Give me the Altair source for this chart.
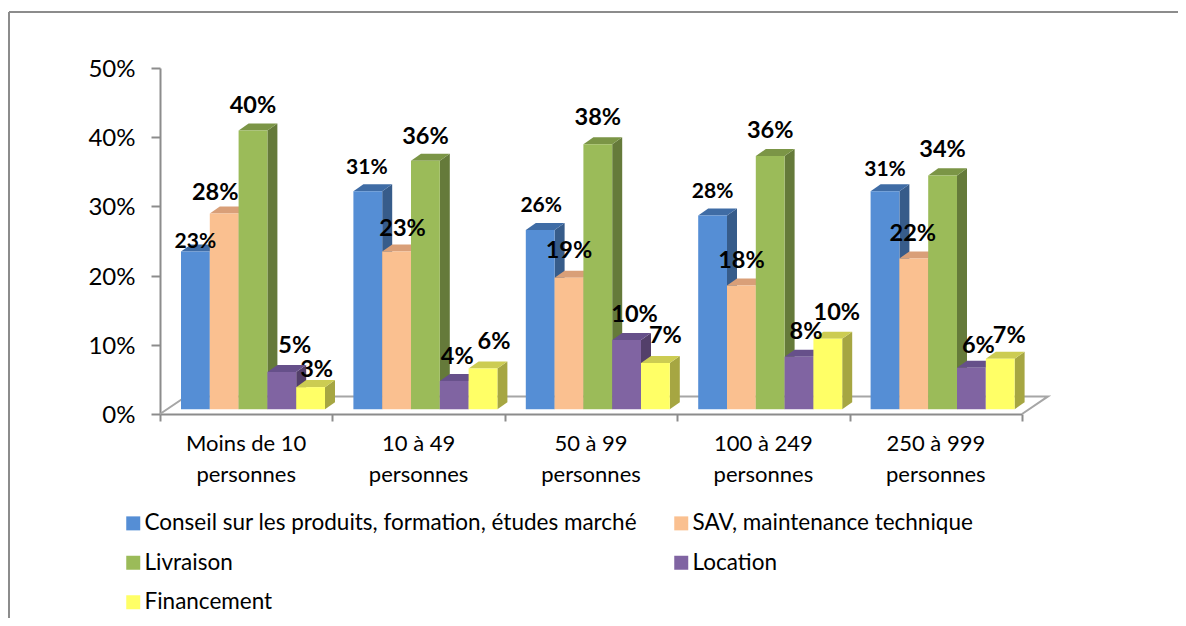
import altair as alt
import pandas as pd

# ---- values ----
CATEGORIES = ["Moins de 10\npersonnes", "10 à 49\npersonnes", "50 à 99\npersonnes",
              "100 à 249\npersonnes", "250 à 999\npersonnes"]
SERIES = ["Conseil sur les produits, formation, études marché", "SAV, maintenance technique",
          "Livraison", "Location", "Financement"]
CONSEIL = [22.8, 31.5, 25.9, 28.0, 31.5]
SAV = [28.3, 22.8, 19.0, 17.9, 21.8]
LIVRAISON = [40.3, 35.9, 38.3, 36.6, 33.8]
LOCATION = [5.4, 4.1, 10.0, 7.6, 6.0]
FINANCEMENT = [3.2, 5.9, 6.7, 10.2, 7.3]
LABELS = [["23%", "31%", "26%", "28%", "31%"],
          ["28%", "23%", "19%", "18%", "22%"],
          ["40%", "36%", "38%", "36%", "34%"],
          ["5%", "4%", "10%", "8%", "6%"],
          ["3%", "6%", "7%", "10%", "7%"]]
VALUES = [CONSEIL, SAV, LIVRAISON, LOCATION, FINANCEMENT]

# ---- styling ----
FRONT = ["#558ed5", "#fac090", "#9bbb59", "#8064a2", "#ffff66"]
TOP = ["#3f6ca5", "#d99f78", "#7b9546", "#66508a", "#cccc52"]
SIDE = ["#375c8a", "#a87f60", "#657a3a", "#533f6a", "#a6a642"]
FONT = "Lato"
GRAY = "#8c8c8c"

PX_X, PX_Y = 172.4, 6.9      # pixels per category / per percent
W = 862
H = 346
BAR_START = 21 / PX_X
BAR_W = 28.8 / PX_X
BASE = 4.7 / PX_Y
DEPTH_X, DEPTH_Y = 10 / PX_X, 7 / PX_Y
FLOOR_X, FLOOR_Y = 26 / PX_X, 17.5 / PX_Y

# label nudges in pixels from the centre of each bar's top edge (right, up), per series
NUDGE_X = [[0, -1, 1, 0, 0], [-9, 6, 0, 0, -1], [0, 0, 0, 0, 0], [13, 3, 8, 7, 7], [6, 11, 10, 9, 9]]
NUDGE_Y = [[12, 26, 26, 26, 24], [23, 25, 29, 27, 27], [27, 26, 29, 27, 28],
           [28, 26, 28, 27, 24], [20, 29, 29, 28, 25]]

fronts, areas_side, areas_top, labels = [], [], [], []
for j, name in enumerate(SERIES):
    for i, cat in enumerate(CATEGORIES):
        v = VALUES[j][i] + BASE   # the bars stand on a floor slightly above the axis line
        x0 = i + BAR_START + j * BAR_W
        x1 = x0 + BAR_W
        key = f"{i}-{j}"
        fronts.append(dict(series=name, x=x0, x2=x1, y=v, y2=BASE))
        for x, y, y2 in [(x1, v, BASE), (x1 + DEPTH_X, v + DEPTH_Y, BASE + DEPTH_Y)]:
            areas_side.append(dict(key=key, x=x, y=y, y2=y2, c=SIDE[j]))
        for x, y, y2 in [(x0, v, v), (x0 + DEPTH_X, v + DEPTH_Y, v),
                         (x1, v + DEPTH_Y, v), (x1 + DEPTH_X, v + DEPTH_Y, v + DEPTH_Y)]:
            areas_top.append(dict(key=key, x=x, y=y, y2=y2, c=TOP[j]))
        labels.append(dict(text=LABELS[j][i], j=j,
                           x=(x0 + x1) / 2 + NUDGE_X[j][i] / PX_X,
                           y=v + NUDGE_Y[j][i] / PX_Y))

xs = alt.Scale(domain=[0, 5], nice=False, zero=False)
ys = alt.Scale(domain=[0, 50], nice=False, zero=False)
X = lambda f="x": alt.X(f"{f}:Q", scale=xs, title=None,
                        axis=alt.Axis(values=[0, 1, 2, 3, 4, 5], labels=False, grid=False, tickSize=7,
                                      tickWidth=2, tickColor=GRAY, domainColor=GRAY, domainWidth=2))
Y = lambda: alt.Y("y:Q", scale=ys, stack=None, title=None,
                  axis=alt.Axis(values=[0, 10, 20, 30, 40, 50], labelExpr="datum.value + '%'", grid=False,
                                tickSize=9, tickWidth=2, tickColor=GRAY, domainColor=GRAY, domainWidth=2,
                                labelFont=FONT, labelFontSize=24, labelColor="#000000", labelPadding=16,
                                labelOffset=1.5))

floor_df = pd.DataFrame([dict(x=0, y=0, o=0), dict(x=FLOOR_X, y=FLOOR_Y, o=1),
                         dict(x=5 + FLOOR_X, y=FLOOR_Y, o=2), dict(x=5, y=0, o=3)])
floor = alt.Chart(floor_df).mark_line(color="#a6a6a6", strokeWidth=2).encode(x=X(), y=Y(), order="o:Q")

sides = alt.Chart(pd.DataFrame(areas_side)).mark_area(opacity=1).encode(
    x=X(), y=Y(), y2="y2:Q", detail="key:N", fill=alt.Fill("c:N", scale=None, legend=None))
tops = alt.Chart(pd.DataFrame(areas_top)).mark_area(opacity=1).encode(
    x=X(), y=Y(), y2="y2:Q", detail="key:N", fill=alt.Fill("c:N", scale=None, legend=None))

front = alt.Chart(pd.DataFrame(fronts)).mark_rect().encode(
    x=X(), x2="x2:Q", y=Y(), y2="y2:Q",
    color=alt.Color("series:N", scale=alt.Scale(domain=SERIES, range=FRONT), sort=SERIES, title=None,
                    legend=alt.Legend(orient="none", legendX=-38, legendY=444, columns=2, direction="horizontal",
                                      symbolType="square", symbolSize=196, symbolStrokeWidth=0,
                                      labelFont=FONT, labelFontSize=22.5, labelColor="#000000",
                                      labelLimit=700, labelOffset=0, columnPadding=33, rowPadding=16.5,
                                      symbolOpacity=1)))

lab = pd.DataFrame(labels)
text_small = alt.Chart(lab[lab.j == 0]).mark_text(font=FONT, fontWeight="bold", fontSize=21, color="#000000",
                                                  baseline="middle", dy=2.5).encode(x=X(), y=Y(), text="text:N")
text_big = alt.Chart(lab[lab.j != 0]).mark_text(font=FONT, fontWeight="bold", fontSize=23.5, color="#000000",
                                                baseline="middle", dy=2.5).encode(x=X(), y=Y(), text="text:N")

cat_df = pd.DataFrame(dict(x=[i + 0.5 for i in range(5)], y=[0] * 5, text=CATEGORIES))
cats = alt.Chart(cat_df).mark_text(font=FONT, fontSize=22, color="#000000", baseline="top", lineBreak="\n",
                                   lineHeight=31, dy=20).encode(x=X(), y=Y(), text="text:N")

frame_left = alt.Chart(pd.DataFrame({"a": [0]})).mark_rule(color=GRAY, strokeWidth=2).encode(
    x=alt.value(-151), y=alt.value(-56), y2=alt.value(570))
frame_top = alt.Chart(pd.DataFrame({"a": [0]})).mark_rule(color=GRAY, strokeWidth=2).encode(
    x=alt.value(-151), x2=alt.value(1030), y=alt.value(-56))

chart = alt.layer(frame_left, frame_top, floor, sides, tops, front, text_small, text_big, cats).properties(
    width=W, height=H,
    padding={"left": 152, "top": 60, "right": 156, "bottom": 204},
    autosize=alt.AutoSizeParams(type="none"),
    background="#ffffff",
).configure_view(stroke=None)

chart.save("out.html", embed_options={"renderer": "svg", "actions": False})
